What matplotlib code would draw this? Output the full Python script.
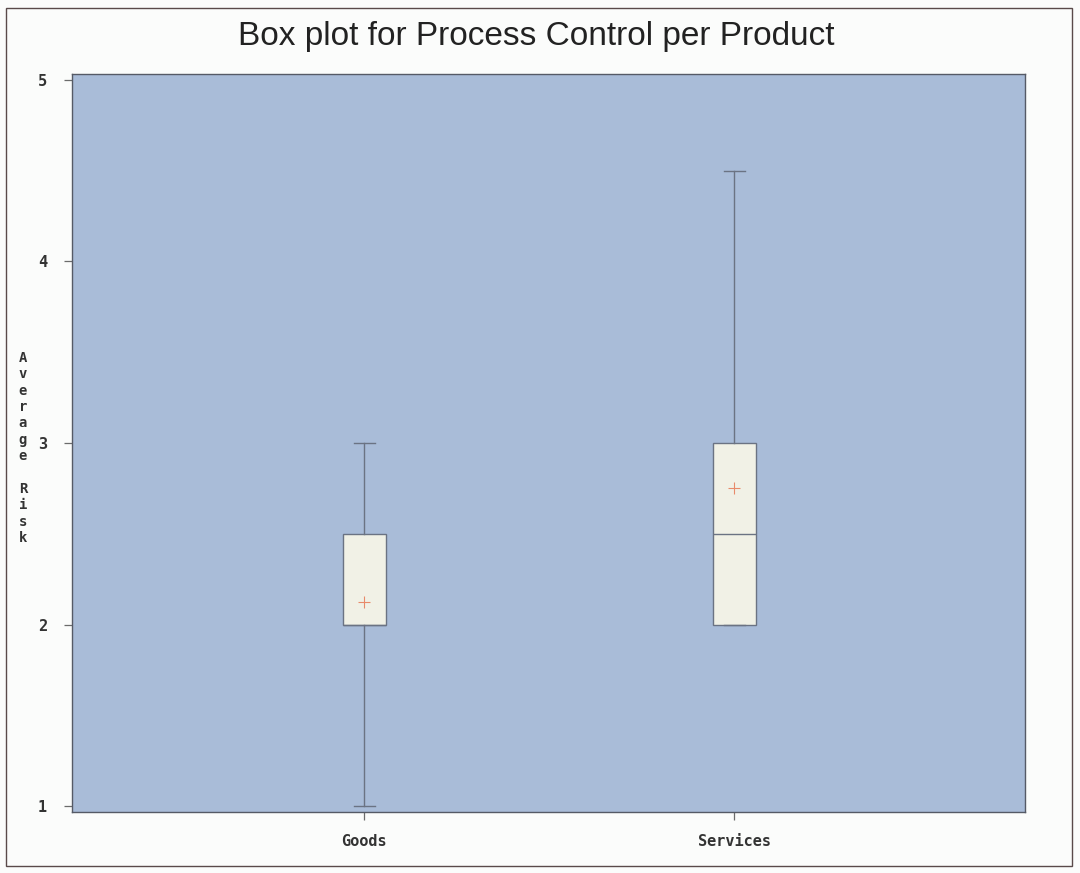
import matplotlib
matplotlib.use("Agg")
from matplotlib import pyplot as plt
from matplotlib.patches import Rectangle

# Risk scores summarised per product type
products = ["Goods", "Services"]
whisker_low = [1.0, 2.0]
q1 = [2.0, 2.0]
medians = [2.0, 2.5]
q3 = [2.5, 3.0]
whisker_high = [3.0, 4.5]
means = [2.125, 2.75]
y_ticks = [1, 2, 3, 4, 5]

stats = []
for i, name in enumerate(products):
    stats.append({
        "label": name,
        "whislo": whisker_low[i],
        "q1": q1[i],
        "med": medians[i],
        "q3": q3[i],
        "whishi": whisker_high[i],
        "mean": means[i],
        "fliers": [],
    })

W, H = 1080, 873
fig = plt.figure(figsize=(W / 100, H / 100), dpi=100)
fig.patch.set_facecolor("#fbfcfb")

ax = fig.add_axes([72 / W, 1 - 812 / H, (1025 - 72) / W, (812 - 74) / H])
ax.set_facecolor("#a9bcd8")

line_col = "#6b7383"
ax.bxp(
    stats,
    positions=[1, 2],
    widths=0.115,
    showmeans=True,
    patch_artist=True,
    boxprops=dict(facecolor="#f1f1e6", edgecolor=line_col, linewidth=1.0),
    medianprops=dict(color=line_col, linewidth=1.0),
    whiskerprops=dict(color=line_col, linewidth=1.0),
    capprops=dict(color=line_col, linewidth=1.0),
    capwidths=0.056,
    meanprops=dict(marker="+", markeredgecolor="#e88a6a", markersize=8,
                   markeredgewidth=0.8),
)

ax.set_xlim(0.21, 2.785)
ax.set_ylim(0.967, 5.033)
ax.set_yticks(y_ticks)
ax.set_yticklabels([str(t) for t in y_ticks])
ax.set_xticks([1, 2])
ax.set_xticklabels(products)

for lab in ax.get_xticklabels() + ax.get_yticklabels():
    lab.set_fontfamily("DejaVu Sans Mono")
    lab.set_fontweight("bold")
    lab.set_fontsize(11)
    lab.set_color("#333333")
ax.tick_params(axis="both", direction="out", length=6, width=0.9,
               color="#6b6b6b")
ax.tick_params(axis="y", pad=12)
ax.tick_params(axis="x", pad=10)
for s in ax.spines.values():
    s.set_color("#555a66")
    s.set_linewidth(1.0)

# Stacked vertical axis label
fig.text(23 / W, 1 - 448 / H, "\n".join("Average Risk"),
         ha="center", va="center", family="DejaVu Sans Mono",
         weight="bold", size=10, color="#333333", linespacing=1.22)

fig.text(536 / W, 1 - 37 / H, "Box plot for Process Control per Product",
         ha="center", va="center", family="Liberation Sans", size=24,
         color="#222222")

# Outer frame
fig.patches.append(Rectangle((6 / W, 1 - 866 / H), (1072 - 6) / W,
                             (866 - 8) / H, transform=fig.transFigure,
                             fill=False, edgecolor="#5a4a4a", linewidth=1.0))

fig.savefig("out.png", dpi=100, facecolor=fig.get_facecolor())
